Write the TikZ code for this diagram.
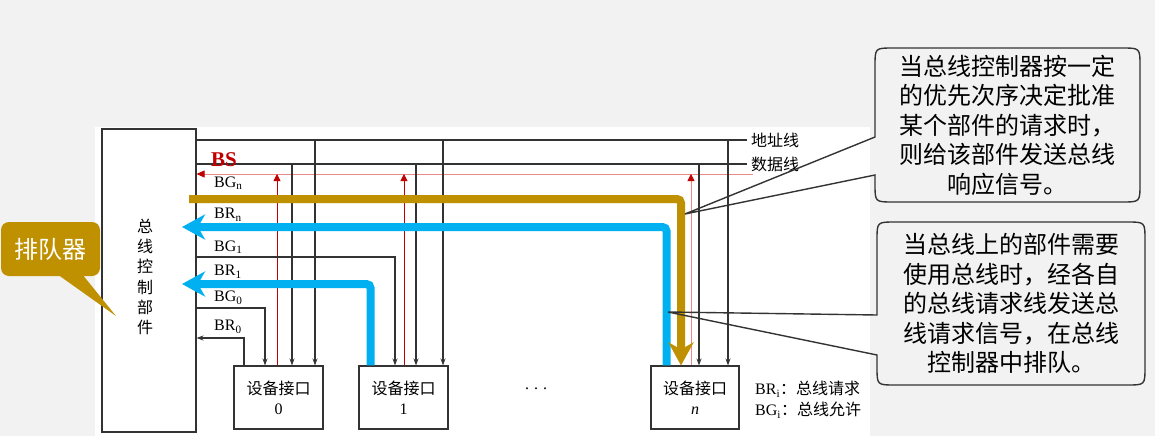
\documentclass[tikz,border=0pt]{standalone}
\usepackage{fontspec}
\setmainfont{Liberation Serif}
\newfontfamily\cjk{Noto Sans CJK SC}
\usetikzlibrary{arrows.meta}
\definecolor{bg}{HTML}{F2F2F2}
\definecolor{gold}{HTML}{BF9000}
\definecolor{sky}{HTML}{00B0F0}
\definecolor{bsred}{HTML}{C00000}
\definecolor{pinkline}{HTML}{E98A8A}
\definecolor{ink}{HTML}{333333}
\begin{document}
\begin{tikzpicture}[x=1pt,y=-1pt,
 wire/.style={draw=ink,line width=1.1pt},
 tap/.style={wire,-{Stealth[length=7pt,width=5pt]}},
 redtap/.style={draw=bsred,line width=0.8pt,-{Triangle[length=7pt,width=7pt,color=bsred]}},
 pinktap/.style={draw=pinkline,line width=0.8pt,-{Triangle[length=7pt,width=7pt,color=bsred]}},
 fat/.style={line width=8pt,rounded corners=4pt},
 bigtip/.style={-{Stealth[length=23pt,width=25pt,inset=7pt]}},
 lbl/.style={font=\fontsize{16}{16}\selectfont,inner sep=0pt,anchor=west},
 cjklbl/.style={font=\cjk\fontsize{16}{16}\selectfont,inner sep=0pt,anchor=west},
 devbox/.style={draw=ink,line width=1.1pt,fill=white,minimum width=89pt,minimum height=63pt,align=center,font=\fontsize{16}{20}\selectfont,inner sep=0pt},
 note/.style={fill=bg,minimum width=265pt,minimum height=154pt,rounded corners=18pt,align=center,font=\cjk\fontsize{24}{29.5}\selectfont,inner sep=0pt},
 outline/.style={draw=ink,line width=1.4pt}
]
\useasboundingbox (0,0) rectangle (1155,436);
\fill[bg] (0,0) rectangle (1155,436);
\fill[white] (95,127) rectangle (870,436);

% controller and devices
\node[draw=ink,line width=1.1pt,minimum width=94pt,minimum height=303pt,inner sep=0pt] (ctrl) at (149,280.5) {};
\node[font=\cjk\fontsize{16}{20.2}\selectfont,align=center,inner sep=0pt] (ctrltext) at (145,277) {总\\线\\控\\制\\部\\件};
\node[devbox] (dev0) at (278.5,397.5) {{\cjk 设备接口}\\0};
\node[devbox] (dev1) at (403.5,397.5) {{\cjk 设备接口}\\1};
\node[devbox,minimum width=88pt] (devn) at (695,397.5) {{\cjk 设备接口}\\\textit{n}};

% buses
\coordinate (addrR) at (747,140);
\coordinate (dataR) at (747,164);
\coordinate (bsR) at (753,174);
\draw[wire] (ctrl.east |- addrR) -- (addrR);
\draw[wire] (ctrl.east |- dataR) -- (dataR);
\draw[draw=pinkline,line width=0.8pt,-{Triangle[length=8pt,width=7pt,color=bsred]}] (bsR) -- (ctrl.east |- bsR);
\node[cjklbl] (addrlbl) at (751,140) {地址线};
\node[cjklbl] (datalbl) at (751,164) {数据线};
\node[font=\fontsize{21}{21}\selectfont,text=bsred,inner sep=0pt,anchor=west] (bslbl) at (211,160) {\textbf{BS}};

% taps
\coordinate (a0) at (315,140); \coordinate (a1) at (443,140); \coordinate (an) at (728,140);
\coordinate (d0) at (292,164); \coordinate (d1) at (416,164); \coordinate (dn) at (699,164);
\coordinate (r0) at (277,174); \coordinate (r1) at (404,174); \coordinate (rn) at (691,174);
\draw[tap] (a0) -- (a0 |- dev0.north);
\draw[tap] (a1) -- (a1 |- dev1.north);
\draw[tap] (an) -- (an |- devn.north);
\draw[tap] (d0) -- (d0 |- dev0.north);
\draw[tap] (d1) -- (d1 |- dev1.north);
\draw[tap] (dn) -- (dn |- devn.north);
\draw[redtap] (r0 |- dev0.north) -- (r0);
\draw[redtap] (r1 |- dev1.north) -- (r1);
\draw[pinktap] (rn |- devn.north) -- (rn);

% grant / request lines
\coordinate (bg0) at (265,308);
\coordinate (br0) at (244,338);
\coordinate (bg1) at (395,257);
\draw[tap] (ctrl.east |- bg0) -- (bg0) -- (bg0 |- dev0.north);
\draw[tap] (br0 |- dev0.north) -- (br0) -- (ctrl.east |- br0);
\draw[tap] (ctrl.east |- bg1) -- (bg1) -- (bg1 |- dev1.north);

\coordinate (br1) at (370.5,284); \coordinate (br1tip) at (182,284);
\coordinate (brn) at (666.5,227); \coordinate (brntip) at (182,227);
\coordinate (bgn) at (681,199); \coordinate (bgnstart) at (189,199);
\draw[fat,sky,bigtip] (br1 |- dev1.north) -- (br1) -- (br1tip);
\draw[fat,sky,bigtip] (brn |- devn.north) -- (brn) -- (brntip);
\draw[fat,gold,bigtip] (bgnstart) -- (bgn) -- (bgn |- devn.north);

\node[lbl] (lbgn) at (214,183) {BG\textsubscript{n}};
\node[lbl] (lbrn) at (214,215) {BR\textsubscript{n}};
\node[lbl] (lbg1) at (214,247) {BG\textsubscript{1}};
\node[lbl] (lbr1) at (214,272) {BR\textsubscript{1}};
\node[lbl] (lbg0) at (214,298) {BG\textsubscript{0}};
\node[lbl] (lbr0) at (214,327) {BR\textsubscript{0}};

\node[font=\fontsize{16}{16}\selectfont,inner sep=0pt] (dots) at (536,389) {.\hspace{5pt}.\hspace{5pt}.};
\node[lbl] (leg1) at (755,389) {BR\textsubscript{i}{\cjk：总线请求}};
\node[lbl] (leg2) at (755,410) {BG\textsubscript{i}{\cjk：总线允许}};

% queue callout
\fill[gold] (57,274) -- (116,316) -- (82,274) -- cycle;
\node[fill=gold,rounded corners=8pt,minimum width=99pt,minimum height=54pt,inner sep=0pt,text=white,font=\cjk\fontsize{24}{24}\selectfont] (queue) at (50.5,249) {排队器};

% note callouts
\node[note] (note1) at (1007.5,125) {当总线控制器按一定\\的优先次序决定批准\\某个部件的请求时，\\则给该部件发送总线\\响应信号。};
\coordinate (tip1) at (685,214);
\draw[outline] (875,137) -- (875,66) .. controls (875,48) .. (893,48) -- (1122,48) .. controls (1140,48) .. (1140,66) -- (1140,184) .. controls (1140,202) .. (1122,202) -- (893,202) .. controls (875,202) .. (875,184) -- (875,175) -- (tip1) -- cycle;

\node[note,minimum width=268pt,minimum height=163pt] (note2) at (1011,303.5) {当总线上的部件需要\\使用总线时，经各自\\的总线请求线发送总\\线请求信号，在总线\\控制器中排队。};
\coordinate (tip2) at (668,312);
\draw[outline] (877,315) -- (877,240) .. controls (877,222) .. (895,222) -- (1127,222) .. controls (1145,222) .. (1145,240) -- (1145,367) .. controls (1145,385) .. (1127,385) -- (895,385) .. controls (877,385) .. (877,367) -- (877,355) -- (tip2) -- cycle;
\end{tikzpicture}
\end{document}
